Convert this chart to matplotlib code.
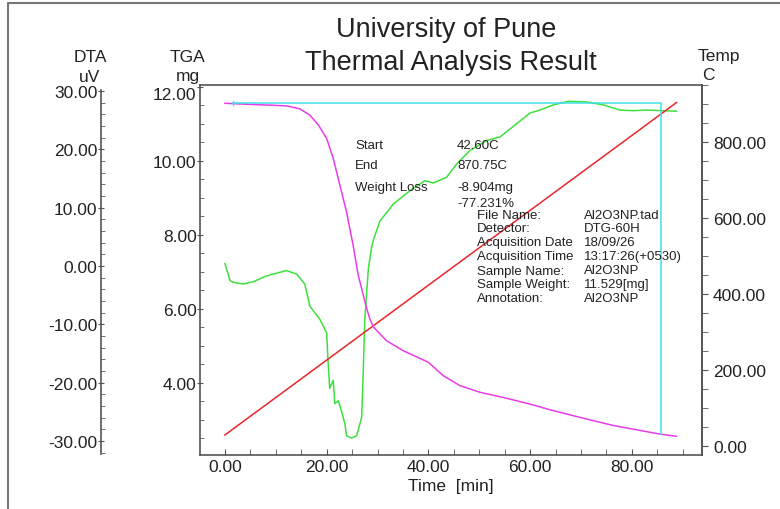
import numpy as np
import matplotlib.pyplot as plt
from matplotlib.ticker import MultipleLocator, FormatStrFormatter
from matplotlib.lines import Line2D

plt.rcParams['font.family'] = ['Liberation Sans', 'DejaVu Sans']

# TGA (mg) vs time (min)
tga_t = [0, 4.9, 8.8, 12.1, 14.7, 16.7, 18.4, 20.0, 21.3, 22.6, 23.9, 25.2, 26.2,
         26.9, 27.9, 28.5, 29.2, 31.8, 35.1, 40.0, 42.9, 46.2, 50.1, 54.7, 60.0,
         63.3, 69.8, 76.4, 85.5, 88.8]
tga_mg = [11.56, 11.53, 11.51, 11.49, 11.41, 11.24, 10.97, 10.61, 10.07, 9.35, 8.63, 7.73, 6.92,
          6.54, 6.00, 5.73, 5.51, 5.14, 4.87, 4.56, 4.20, 3.93, 3.75, 3.61, 3.43,
          3.30, 3.07, 2.85, 2.62, 2.56]

# DTA (uV) vs time (min)
dta_t = [0, 0.3, 0.65, 1.0, 1.6, 3.6, 5.6, 8.2, 12.1, 14.1, 15.7, 16.7, 18.7, 20.0,
         20.3, 20.6, 21.3, 21.6, 22.3, 22.9, 23.6, 23.9, 24.9, 25.9, 26.9, 27.2, 27.5,
         28.2, 28.8, 29.2, 30.5, 33.1, 36.4, 39.3, 41.0, 43.6, 45.6, 48.2, 51.5, 54.1,
         57.4, 60.0, 61.9, 64.6, 67.5, 71.1, 74.4, 77.7, 80.3, 82.9, 86.2, 88.8]
dta_uv = [0.4, -0.5, -1.4, -2.5, -2.8, -3.1, -2.7, -1.7, -0.8, -1.4, -3.1, -6.9, -9.2, -11.5,
          -16.7, -21.0, -19.6, -23.6, -23.1, -24.8, -27.1, -29.1, -29.5, -29.1, -25.9, -17.9, -9.2,
          -0.5, 3.0, 4.5, 7.7, 10.6, 12.9, 14.6, 14.2, 15.2, 17.5, 19.8, 21.5, 22.1,
          24.4, 26.2, 26.7, 27.6, 28.2, 28.1, 27.6, 26.7, 26.6, 26.7, 26.6, 26.5]

# Temperature (C) vs time (min)
temp_t = [0, 20, 40, 60, 80, 88.8]
temp_c = [29, 226, 423, 620, 817, 904]

info_keys = ['File Name:', 'Detector:', 'Acquisition Date', 'Acquisition Time',
             'Sample Name:', 'Sample Weight:', 'Annotation:']
info_vals = ['Al2O3NP.tad', 'DTG-60H', '18/09/26', '13:17:26(+0530)',
             'Al2O3NP', '11.529[mg]', 'Al2O3NP']

W, H = 780, 510
fig = plt.figure(figsize=(7.8, 5.1), dpi=100)
L, R, T, B = 200, 702, 86, 456
ax = fig.add_axes([L / W, 1 - B / H, (R - L) / W, (B - T) / H])
ax_dta = ax.twinx()
ax_tmp = ax.twinx()

txtc = '#222222'
spc = '#555555'

ax.set_xlim(-4.9, 93.8)
ax.set_ylim(2.054, 12.054)
ax_dta.set_ylim(-32.4, 31.0)
ax_tmp.set_ylim(-23.7, 950)

ax_tmp.plot(temp_t, temp_c, color='#e8262a', lw=1.1)
ax_dta.plot(dta_t, dta_uv, color='#3ee03e', lw=1.1)
ax.plot(tga_t, tga_mg, color='#e83de8', lw=1.1, zorder=3)
# step marker lines
ax.plot([1.6, 85.7, 85.7], [11.56, 11.56, 2.62], color='#40e0e8', lw=1.1, zorder=4)
ax.plot([1.6, 1.6], [11.50, 11.62], color='#40e0e8', lw=1.0, zorder=4)
ax.set_zorder(3)
ax.patch.set_visible(False)

for a in (ax, ax_dta, ax_tmp):
    for s in a.spines.values():
        s.set_color(spc)
        s.set_linewidth(1.2)

# x axis
ax.xaxis.set_major_locator(MultipleLocator(20))
ax.xaxis.set_minor_locator(MultipleLocator(5))
ax.xaxis.set_major_formatter(FormatStrFormatter('%.2f'))
ax.tick_params(axis='x', which='both', direction='in', length=4, color=spc,
               labelsize=12.5, labelcolor=txtc, pad=3)
ax.set_xlabel('Time  [min]', fontsize=12.5, color=txtc, labelpad=3)

# TGA axis
ax.yaxis.set_minor_locator(MultipleLocator(0.5))
ax.yaxis.set_major_formatter(FormatStrFormatter('%.2f'))
ax.tick_params(axis='y', which='major', direction='inout', length=5, color=spc,
               labelsize=12.5, labelcolor=txtc, pad=0)
ax.tick_params(axis='y', which='minor', direction='in', length=3, color=spc)
ax.set_yticks(np.arange(4, 12.01, 2))
ax.get_yticklabels()[-1].set_verticalalignment('top')

# DTA axis
ax_dta.yaxis.set_ticks_position('left')
ax_dta.spines['left'].set_position(('axes', (101 - L) / (R - L)))
ax_dta.spines['left'].set_bounds(-32.2, 30.1)
for k in ('right', 'top', 'bottom'):
    ax_dta.spines[k].set_visible(False)
ax_dta.yaxis.set_major_locator(MultipleLocator(10))
ax_dta.yaxis.set_minor_locator(MultipleLocator(2))
ax_dta.yaxis.set_major_formatter(FormatStrFormatter('%.2f'))
ax_dta.tick_params(axis='y', which='major', direction='inout', length=5, color=spc,
                   labelsize=12.5, labelcolor=txtc, pad=0)
ax_dta.tick_params(axis='y', which='minor', direction='in', length=3, color=spc)

# Temp axis
for k in ('left', 'top', 'bottom'):
    ax_tmp.spines[k].set_visible(False)
ax_tmp.yaxis.set_minor_locator(MultipleLocator(50))
ax_tmp.yaxis.set_major_formatter(FormatStrFormatter('%.2f'))
ax_tmp.tick_params(axis='y', which='both', direction='out', length=4, color=spc,
                   labelsize=12.5, labelcolor=txtc, pad=4)
ax_tmp.set_yticks(np.arange(0, 801, 200))


def ftext(x, y, s, **kw):
    kw.setdefault('color', txtc)
    fig.text(x / W, 1 - y / H, s, **kw)


ftext(446, 30, 'University of Pune', fontsize=19.5, ha='center', va='center')
ftext(451, 63, 'Thermal Analysis Result', fontsize=19.5, ha='center', va='center')
ftext(90, 58, 'DTA', fontsize=12.5, ha='center', va='center')
ftext(90, 77, 'uV', fontsize=12.5, ha='center', va='center')
ftext(188, 58, 'TGA', fontsize=12.5, ha='center', va='center')
ftext(188, 76, 'mg', fontsize=12.5, ha='center', va='center')
ftext(698, 57, 'Temp', fontsize=12.5, ha='left', va='center')
ftext(702, 76, 'C', fontsize=12.5, ha='left', va='center')

fs = 9.5
ftext(355, 146, 'Start', fontsize=fs, va='center')
ftext(457, 146, '42.60C', fontsize=fs, va='center')
ftext(355, 166, 'End', fontsize=fs, va='center')
ftext(457, 166, '870.75C', fontsize=fs, va='center')
ftext(355, 188, 'Weight Loss', fontsize=fs, va='center')
ftext(457, 188, '-8.904mg', fontsize=fs, va='center')
ftext(457, 204, '-77.231%', fontsize=fs, va='center')

info_y = [216, 229.5, 243, 257, 271.5, 285, 299]
for k, v, y in zip(info_keys, info_vals, info_y):
    ftext(477, y, k, fontsize=fs, va='center')
    ftext(584, y, v, fontsize=fs, va='center')

# outer frame
fig.add_artist(Line2D([8 / W, 8 / W, 1], [0, 1 - 4 / H, 1 - 4 / H],
                      transform=fig.transFigure, color='#777777', lw=1.5))

fig.savefig('out.png', dpi=100)
